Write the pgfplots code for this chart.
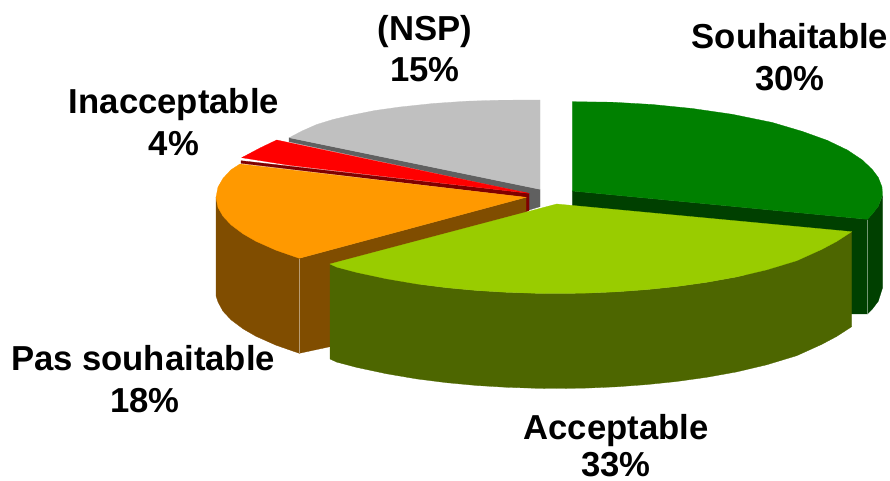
\documentclass[border=0pt]{standalone}
\usepackage{fontspec}
\setmainfont{Liberation Sans}
\usepackage{pgfplots}
\pgfplotsset{compat=1.18}
\definecolor{vert}{HTML}{008000}
\definecolor{vertS}{HTML}{004000}
\definecolor{lime}{HTML}{99CC00}
\definecolor{limeS}{HTML}{4D6600}
\definecolor{orange}{HTML}{FF9900}
\definecolor{orangeS}{HTML}{804D00}
\definecolor{rouge}{HTML}{FF0000}
\definecolor{rougeS}{HTML}{800000}
\definecolor{gris}{HTML}{C0C0C0}
\definecolor{grisS}{HTML}{606060}
\tikzset{lab/.style={font=\fontsize{26}{30}\selectfont\bfseries,anchor=base,text=black,inner sep=0pt}}
\pgfplotsset{face/.style={no markers,fill=#1,draw=#1,line width=0.2pt}}
\begin{document}
\begin{tikzpicture}
\begin{axis}[
    name=pie,
    x=0.75pt, y=0.75pt,
    xmin=0, xmax=890,
    ymin=0, ymax=481,
    y dir=reverse,
    hide axis,
    clip=false
]
% (NSP)
\addplot[face=grisS] coordinates {(289,137.7) (289,141.7) (529,193.3) (529,210) (540,206.7) (540,189.3)} --cycle;
\addplot[face=gris] coordinates {(289.3,137.7) (302,131) (316.7,124.5) (333,119.5) (350,115.5) (375,110.5) (400,107) (433,103.5) (466.7,101.2) (500,100.2) (540,100) (540,189.3)} --cycle;
% Inacceptable
\addplot[face=rougeS] coordinates {(241,160.7) (241,163.3) (526,197.3) (526,211.7) (529,210.7) (529,193.3)} --cycle;
\addplot[face=rouge] coordinates {(276.7,140) (260,148) (241.7,157.7) (290,165.3) (529,193.3)} --cycle;
% Pas souhaitable
\addplot[face=orangeS] coordinates {(299.3,258.3) (526,197.3) (526,212) (330,346.7) (299.3,353.3)} --cycle;
\addplot[face=orangeS] coordinates {(216,197.3) (216,296) (218,302) (223,311.2) (231,319.8) (243,328.8) (256,336.3) (276,345.2) (299.3,353.3) (299.3,258.3)} --cycle;
\addplot[face=orange] coordinates {(240,164) (231,169.8) (223,178.4) (218,187.1) (216,197.3) (218,207.5) (223,216.2) (231,224.8) (243,233.8) (256,241.3) (276,250.2) (299.3,258.3) (526,197.3)} --cycle;
\addplot[no markers,color=orangeS!55!white,line width=0.4pt] coordinates {(299.3,259) (299.3,353)};
% Souhaitable
\addplot[face=vertS] coordinates {(572.3,191) (572.3,210) (851.7,314) (867.3,314) (867.3,219.3)} --cycle;
\addplot[face=vertS] coordinates {(867.3,219.3) (872.3,214.1) (878.3,206.2) (882.5,196) (882.5,288) (878.3,301.2) (872.3,309.1) (867.3,314)} --cycle;
\addplot[face=vert] coordinates {(572.3,101.7) (612.3,102.2) (652.3,104.5) (692.3,108.5) (732.3,114.3) (772.3,122.5) (802.3,131.4) (827.3,140.4) (847.3,150) (862.3,160) (872.3,169.5) (878.3,177.5) (882,187) (882.5,195) (878.3,206.2) (872.3,214.1) (867.3,219.3) (572.3,191)} --cycle;
\addplot[no markers,color=vertS!55!white,line width=0.4pt] coordinates {(867.3,220) (867.3,314)};
% Acceptable
\addplot[face=limeS] coordinates {(330,264) (336.7,267.1) (356.7,272.4) (386.7,278.8) (416.7,283.9) (446.7,287.7) (476.7,290.5) (506.7,292.3) (536.7,293.3) (556.7,293.5) (586.7,293.1) (616.7,291.8) (646.7,289.6) (676.7,286.5) (706.7,282.3) (736.7,276.9) (766.7,269.8) (796.7,260.7) (821.7,249.4) (836.7,241.4) (851.7,231.7) (851.7,326.7) (836.7,336.4) (821.7,344.4) (796.7,355.7) (766.7,364.8) (736.7,371.9) (706.7,377.3) (676.7,381.5) (646.7,384.6) (616.7,386.8) (586.7,388.1) (556.7,388.5) (536.7,388.3) (506.7,387.3) (476.7,385.5) (446.7,382.7) (416.7,378.9) (386.7,373.8) (356.7,367.4) (336.7,362.1) (330,359)} --cycle;
\addplot[face=lime] coordinates {(556.7,204) (330,264) (336.7,267.1) (356.7,272.4) (386.7,278.8) (416.7,283.9) (446.7,287.7) (476.7,290.5) (506.7,292.3) (536.7,293.3) (556.7,293.5) (586.7,293.1) (616.7,291.8) (646.7,289.6) (676.7,286.5) (706.7,282.3) (736.7,276.9) (766.7,269.8) (796.7,260.7) (821.7,249.4) (836.7,241.4) (851.7,231.7)} --cycle;
% labels
\node[lab] at (axis cs:790,49) {Souhaitable};
\node[lab] at (axis cs:790,91) {30\%};
\node[lab] at (axis cs:425,41) {(NSP)};
\node[lab] at (axis cs:425,82) {15\%};
\node[lab] at (axis cs:174,114) {Inacceptable};
\node[lab] at (axis cs:174,156) {4\%};
\node[lab] at (axis cs:143,370) {Pas souhaitable};
\node[lab] at (axis cs:145,412) {18\%};
\node[lab] at (axis cs:616,439) {Acceptable};
\node[lab] at (axis cs:616,476) {33\%};
\end{axis}
\pgfresetboundingbox
\path[use as bounding box] (pie.south west) rectangle (pie.north east);
\end{tikzpicture}
\end{document}
